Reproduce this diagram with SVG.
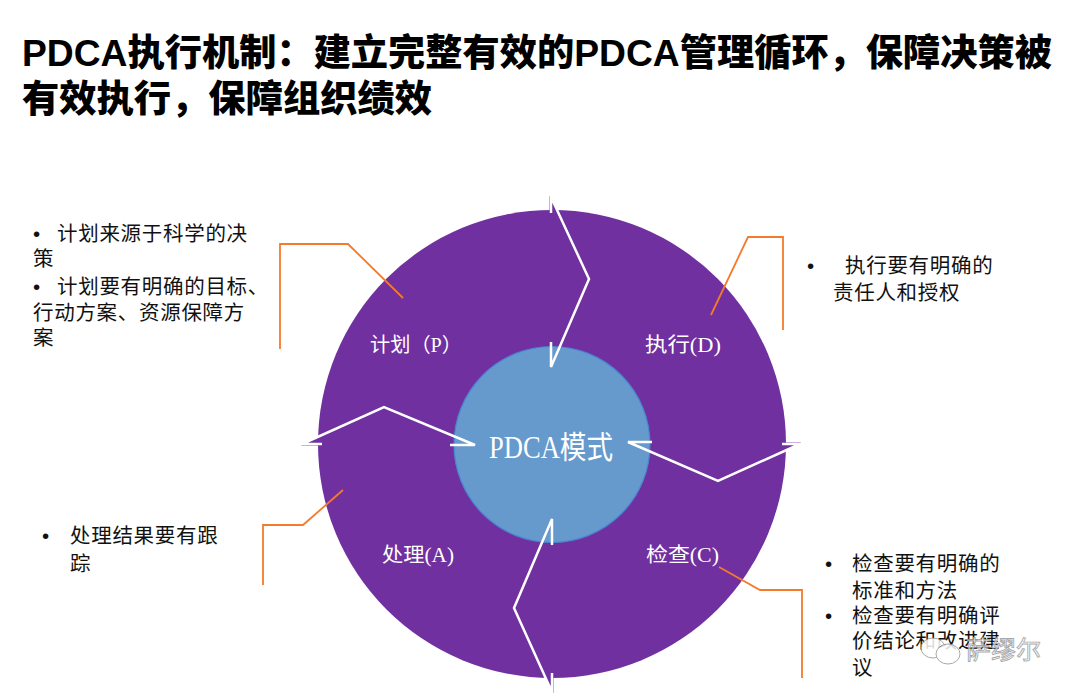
<svg xmlns="http://www.w3.org/2000/svg" width="1080" height="699" viewBox="0 0 1080 699">
<style>
.title{font-family:"Liberation Sans","Noto Sans CJK SC",sans-serif;font-weight:900;font-size:37px;fill:#000}
.body{font-family:"Liberation Sans","Noto Sans CJK SC",sans-serif;font-size:20.5px;fill:#111;letter-spacing:0.7px}
.lab{font-family:"Liberation Serif","Noto Sans CJK SC",serif;font-size:20px;fill:#fff}
.center{font-family:"Liberation Serif","Noto Sans CJK SC",serif;font-size:31px;fill:#fff}
.sep{fill:none;stroke:#fff;stroke-width:2.5;stroke-linejoin:miter}
.tip{fill:#7030A0}
.call{fill:none;stroke:#F47A2C;stroke-width:1.8}
.wm{font-family:"Noto Sans CJK SC",sans-serif;font-size:25px;fill:#fff;stroke:#9a9a9a;stroke-width:0.9}
</style>
<rect width="1080" height="699" fill="#fff"/>
<g id="title">
<text class="title" x="22" y="66" textLength="1030" lengthAdjust="spacingAndGlyphs">PDCA执行机制：建立完整有效的PDCA管理循环，保障决策被</text>
<text class="title" x="22" y="112" textLength="410" lengthAdjust="spacingAndGlyphs">有效执行，保障组织绩效</text>
</g>
<g id="ring">
<circle cx="552" cy="444" r="234" fill="#7030A0"/>
<polygon class="tip" points="549.5,196 549.5,213 559,213"/>
<polygon class="tip" points="801,442.5 784,442.5 784,452"/>
<polygon class="tip" points="553.5,693 553.5,676 544,676"/>
<polygon class="tip" points="301,445.5 320,445.5 320,436"/>
</g>
<g id="center-node">
<circle cx="552" cy="444.5" r="98" fill="#6699CC" stroke="#4A86D0" stroke-width="1.2"/>
<text class="center" x="489" y="458" textLength="124" lengthAdjust="spacingAndGlyphs">PDCA模式</text>
</g>
<g id="connectors">
<polyline class="sep" points="551,213 551,197 589,279 551,367 551,342"/>
<polyline class="sep" points="782,444 800,444 718,481 628,442 652,442"/>
<polyline class="sep" points="552,545 552,519 514,608 552,692 552,673"/>
<polyline class="sep" points="322,444 302,444 384,407 475,445 450,445"/>
<polyline class="call" points="280,349 280,244 348,244 403,298"/>
<polyline class="call" points="783,330 783,237 748,237 711,315"/>
<polyline class="call" points="263,585 263,525 303,525 343,490"/>
<polyline class="call" points="802,678 802,590 760,590 719,567"/>
</g>
<g id="node-P">
<text class="lab" x="370" y="352" textLength="92" lengthAdjust="spacingAndGlyphs">计划（P）</text>
<text class="body" x="33" y="241">•</text>
<text class="body" x="57" y="241">计划来源于科学的决</text>
<text class="body" x="33" y="266">策</text>
<text class="body" x="33" y="294">•</text>
<text class="body" x="57" y="294">计划要有明确的目标、</text>
<text class="body" x="33" y="320">行动方案、资源保障方</text>
<text class="body" x="33" y="345">案</text>
</g>
<g id="node-D">
<text class="lab" x="645" y="352" textLength="76" lengthAdjust="spacingAndGlyphs">执行(D)</text>
<text class="body" x="807" y="273">•</text>
<text class="body" x="845" y="273">执行要有明确的</text>
<text class="body" x="833" y="300">责任人和授权</text>
</g>
<g id="node-A">
<text class="lab" x="382" y="562" textLength="72" lengthAdjust="spacingAndGlyphs">处理(A)</text>
<text class="body" x="42" y="543">•</text>
<text class="body" x="70" y="543">处理结果要有跟</text>
<text class="body" x="70" y="571">踪</text>
</g>
<g id="node-C">
<text class="lab" x="646" y="562" textLength="73" lengthAdjust="spacingAndGlyphs">检查(C)</text>
<text class="body" x="825" y="571">•</text>
<text class="body" x="852" y="571">检查要有明确的</text>
<text class="body" x="852" y="598">标准和方法</text>
<text class="body" x="825" y="623">•</text>
<text class="body" x="852" y="623">检查要有明确评</text>
<text class="body" x="852" y="648">价结论和改进建</text>
<text class="body" x="852" y="675">议</text>
</g>
<g id="watermark" opacity="0.85">
<ellipse cx="933" cy="648" rx="12" ry="10" fill="#fff" stroke="#9a9a9a" stroke-width="1"/>
<ellipse cx="948" cy="654" rx="12" ry="10" fill="#fff" stroke="#9a9a9a" stroke-width="1"/>
<text class="wm" x="966" y="659">萨缪尔</text>
</g>
</svg>
